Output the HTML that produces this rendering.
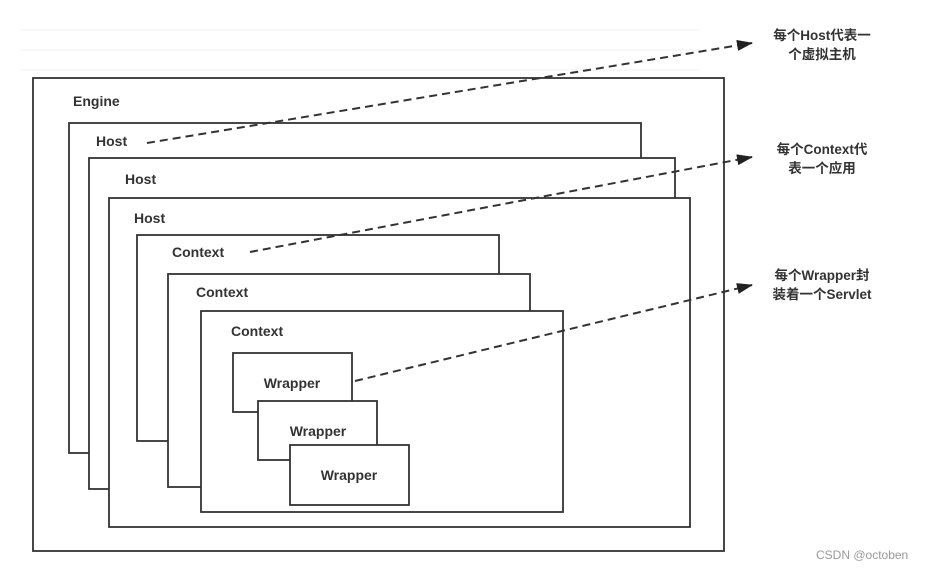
<!DOCTYPE html>
<html><head><meta charset="utf-8"><style>
body{margin:0;background:#fff;}
svg text{font-family:"Liberation Sans","Noto Sans CJK SC",sans-serif;font-weight:bold;fill:#333;font-size:14px;}
</style></head><body>
<svg width="925" height="570" viewBox="0 0 925 570" xmlns="http://www.w3.org/2000/svg">
<defs><marker id="a" markerWidth="16" markerHeight="11" refX="15" refY="5.5" orient="auto" markerUnits="userSpaceOnUse"><path d="M0,0 L16,5.5 L0,11 z" fill="#222"/></marker></defs>
<g stroke="#f0f0f0" stroke-width="1">
<line x1="20" y1="30" x2="700" y2="30"/><line x1="20" y1="50" x2="700" y2="50"/><line x1="20" y1="70" x2="700" y2="70"/>
</g>
<g fill="#fff" stroke="#333" stroke-width="1.8">
<rect x="33" y="78" width="691" height="473"/>
<rect x="69" y="123" width="572" height="330"/>
<rect x="89" y="158" width="586" height="331"/>
<rect x="109" y="198" width="581" height="329"/>
<rect x="137" y="235" width="362" height="206"/>
<rect x="168" y="274" width="362" height="213"/>
<rect x="201" y="311" width="362" height="201"/>
<rect x="233" y="353" width="119" height="59"/>
<rect x="258" y="401" width="119" height="59"/>
<rect x="290" y="445" width="119" height="60"/>
</g>
<text x="73" y="106">Engine</text>
<text x="96" y="146">Host</text>
<text x="125" y="184">Host</text>
<text x="134" y="223">Host</text>
<text x="172" y="257">Context</text>
<text x="196" y="297">Context</text>
<text x="231" y="336">Context</text>
<text x="292" y="388" text-anchor="middle">Wrapper</text>
<text x="318" y="436" text-anchor="middle">Wrapper</text>
<text x="349" y="480" text-anchor="middle">Wrapper</text>
<g stroke="#333" stroke-width="2" stroke-dasharray="8,5" fill="none">
<line x1="147" y1="143" x2="752" y2="43" marker-end="url(#a)"/>
<line x1="250" y1="252" x2="752" y2="157" marker-end="url(#a)"/>
<line x1="355" y1="381" x2="752" y2="285" marker-end="url(#a)"/>
</g>
<text x="822" y="40" text-anchor="middle" style="font-size:13.5px">每个Host代表一</text>
<text x="822" y="59" text-anchor="middle" style="font-size:13.5px">个虚拟主机</text>
<text x="822" y="154" text-anchor="middle" style="font-size:13.5px">每个Context代</text>
<text x="822" y="173" text-anchor="middle" style="font-size:13.5px">表一个应用</text>
<text x="822" y="280" text-anchor="middle" style="font-size:13.5px">每个Wrapper封</text>
<text x="822" y="299" text-anchor="middle" style="font-size:13.5px">装着一个Servlet</text>
<text x="816" y="559" style="font-weight:normal;font-size:12px;fill:#999">CSDN @octoben</text>
</svg>
</body></html>
